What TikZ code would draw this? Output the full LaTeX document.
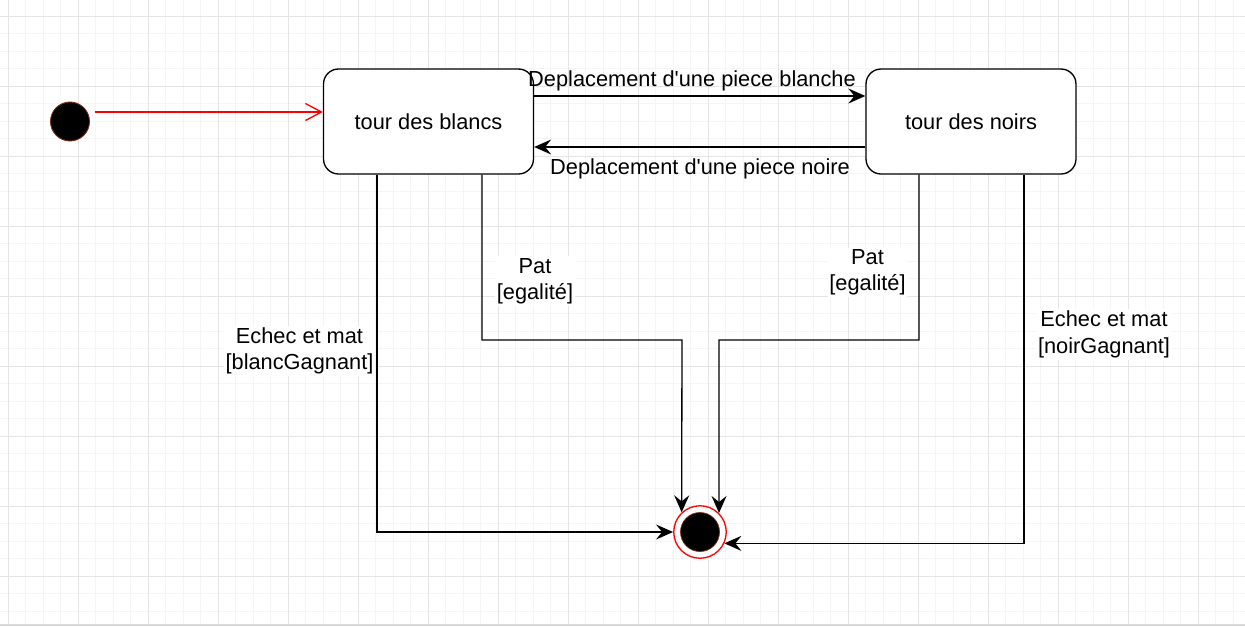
\documentclass[tikz,border=0pt]{standalone}
\usepackage{fontspec}
\setmainfont{Liberation Sans}[Ligatures=TeXOff]
\usetikzlibrary{calc,arrows.meta}
\definecolor{gmin}{HTML}{F5F5F5}
\definecolor{gmaj}{HTML}{E5E5E5}
\definecolor{edge}{HTML}{D8D8D8}
\definecolor{initred}{HTML}{FF0000}
\definecolor{rim}{HTML}{7A2A10}
\tikzset{
  gridmin/.style={draw=gmin, line width=0.55pt},
  gridmaj/.style={draw=gmaj, line width=0.55pt},
  box/.style={draw=black, fill=white, line width=0.75pt, rounded corners=0.3cm,
    minimum width=4.2cm, minimum height=2.1cm, inner sep=0pt, font=\fontsize{12.4}{15}\selectfont},
  tr/.style={draw=black, line width=0.75pt, -{Stealth[length=3.4mm,width=3mm,inset=1.2mm]}},
  init/.style={draw=initred, line width=0.75pt, -{Straight Barb[length=3.2mm,width=3.4mm]}},
  dot/.style={circle, fill=black, draw=rim, line width=0.5pt, minimum size=0.78cm, inner sep=0pt},
  findot/.style={circle, fill=white, draw=initred, line width=0.75pt, minimum size=1.05cm, inner sep=0pt},
  lab/.style={fill=white, align=center, inner sep=1pt, font=\fontsize{12.4}{15}\selectfont},
}
\begin{document}
\begin{tikzpicture}[x=0.02cm,y=-0.02cm]
  \useasboundingbox (0,0) rectangle (1245,626);
  \fill[white] (0,0) rectangle (1245,626);
  \foreach \x in {8,25.5,...,1245} \draw[gridmin] (\x,0) -- (\x,626);
  \foreach \y in {16,33.5,...,626} \draw[gridmin] (0,\y) -- (1245,\y);
  \foreach \x in {8,78,...,1245} \draw[gridmaj] (\x,0) -- (\x,626);
  \foreach \y in {16,86,...,626} \draw[gridmaj] (0,\y) -- (1245,\y);
  \draw[edge, line width=1.2pt] (0,625) -- (1245,625);

  \node[dot] (start) at (70,121.5) {};
  \node[box] (blancs) at (428.5,121.5) {tour des blancs};
  \node[box] (noirs) at (971,121.5) {tour des noirs};
  \node[findot] (fin) at (700,532) {};
  \fill[black] (fin.center) circle (0.39cm);
  \draw[rim, line width=0.4pt] (fin.center) circle (0.39cm);

  \draw[init] ($(start.east)+(5,-9.5)$) -- ($(blancs.west)+(0,-9.5)$);

  \draw[tr] ($(blancs.east)+(0,-25.5)$) -- ($(noirs.west)+(0,-25.5)$);
  \draw[tr] ($(noirs.west)+(0,25.5)$) -- ($(blancs.east)+(0,25.5)$);
  \node[lab, fill=none] at (692,81) {Deplacement d'une piece blanche};
  \node[lab, fill=none] at (700,169) {Deplacement d'une piece noire};

  \draw[tr] ($(blancs.south)+(-51.5,0)$) |- (fin);
  \draw[tr] ($(blancs.south)+(53.5,0)$) |- (682,340) -- (fin.133);
  \draw[tr] ($(noirs.south)+(-52,0)$) |- (719,340) -- (fin.45);
  \draw[tr] ($(noirs.south)+(53,0)$) |- (fin.-25);

  \node[lab] at (299.5,351) {Echec et mat\\{}[blancGagnant]};
  \node[lab] at (535,281) {Pat\\{}[egalité]};
  \node[lab] at (867.5,272.5) {Pat\\{}[egalité]};
  \node[lab] at (1104,334.5) {Echec et mat\\{}[noirGagnant]};
\end{tikzpicture}
\end{document}
